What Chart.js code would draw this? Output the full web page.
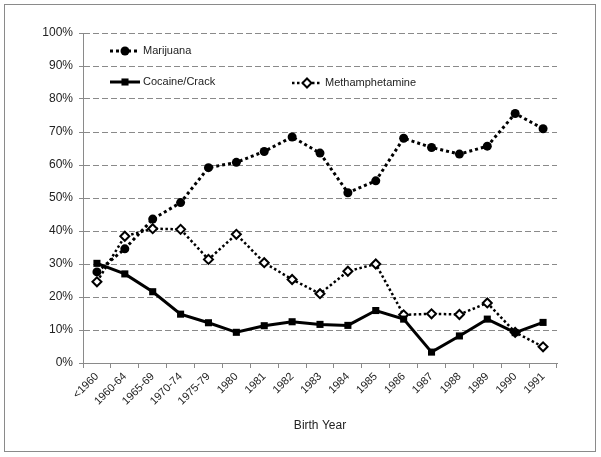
<!DOCTYPE html>
<html>
<head>
<meta charset="utf-8">
<script src="https://cdn.jsdelivr.net/npm/chart.js@4"></script>
<style>
	html, body { margin: 0; padding: 0; background: #fff; }
	#wrap { position: relative; width: 601px; height: 457px; }
	#frame {
		position: absolute; left: 4px; top: 4px; width: 590px; height: 446px;
		border: 1.5px solid #8a8a8a; pointer-events: none;
	}
</style>
</head>
<body>
<div id="wrap">
	<canvas id="drug-chart" width="601" height="457"></canvas>
	<div id="frame"></div>
</div>
<script>
// Chart data
const birthYears = ['<1960', '1960-64', '1965-69', '1970-74', '1975-79', '1980', '1981', '1982',
	'1983', '1984', '1985', '1986', '1987', '1988', '1989', '1990', '1991'];
const marijuana = [27.6, 34.6, 43.6, 48.6, 59.2, 60.8, 64.1, 68.5, 63.6, 51.6, 55.2, 68.1, 65.3, 63.3, 65.7, 75.6, 71.0];
const cocaine = [30.2, 27.0, 21.6, 14.8, 12.2, 9.3, 11.3, 12.5, 11.7, 11.4, 15.9, 13.3, 3.3, 8.2, 13.3, 9.2, 12.3];
const meth = [24.6, 38.4, 40.7, 40.5, 31.4, 39.0, 30.4, 25.3, 21.0, 27.8, 30.0, 14.6, 14.9, 14.7, 18.2, 9.3, 4.9];
const yTicks = [0, 10, 20, 30, 40, 50, 60, 70, 80, 90, 100];

const FONT = 'Liberation Sans, Arial, sans-serif';
const AXIS_GRAY = '#8a8a8a';

let chart = null;

/**
 * Draw one legend sample (line + marker + label) inside the plot area
 */
function drawLegendItem(ctx, x, y, ds, text) {
	ctx.save();
	ctx.strokeStyle = '#000';
	ctx.lineWidth = ds.borderWidth;
	ctx.setLineDash(ds.borderDash || []);
	ctx.beginPath();
	ctx.moveTo(x, y);
	ctx.lineTo(x + 30, y);
	ctx.stroke();
	ctx.setLineDash([]);

	const cx = x + 15;
	const r = ds.pointRadius;
	ctx.fillStyle = ds.pointBackgroundColor;
	ctx.strokeStyle = ds.pointBorderColor;
	ctx.lineWidth = ds.pointBorderWidth;
	ctx.beginPath();
	if (ds.pointStyle === 'circle') {
		ctx.arc(cx, y, r, 0, Math.PI * 2);
	} else if (ds.pointStyle === 'rect') {
		const s = r * Math.SQRT1_2;
		ctx.rect(cx - s, y - s, 2 * s, 2 * s);
	} else {
		ctx.moveTo(cx, y - r);
		ctx.lineTo(cx + r, y);
		ctx.lineTo(cx, y + r);
		ctx.lineTo(cx - r, y);
		ctx.closePath();
	}
	ctx.fill();
	if (ds.pointBorderWidth) ctx.stroke();

	ctx.fillStyle = '#222';
	ctx.font = '11px ' + FONT;
	ctx.textBaseline = 'middle';
	ctx.textAlign = 'left';
	ctx.fillText(text, x + 33, y);
	ctx.restore();
}

const legendPlugin = {
	id: 'insideLegend',
	afterDatasetsDraw(c) {
		const area = c.chartArea;
		const ctx = c.ctx;
		const sets = c.data.datasets;
		drawLegendItem(ctx, area.left + 27, area.top + 18, sets[0], sets[0].label);
		drawLegendItem(ctx, area.left + 27, area.top + 49, sets[1], sets[1].label);
		drawLegendItem(ctx, area.left + 209, area.top + 50, sets[2], sets[2].label);
	}
};

/**
 * Initialize Chart.js
 */
function initChart() {
	const ctx = document.getElementById('drug-chart').getContext('2d');

	const chartConfig = {
		type: 'line',
		data: {
			labels: birthYears,
			datasets: [{
				label: 'Marijuana',
				data: marijuana,
				borderColor: '#000',
				borderWidth: 3,
				borderDash: [3, 3],
				pointStyle: 'circle',
				pointRadius: 4.5,
				pointBackgroundColor: '#000',
				pointBorderColor: '#000',
				pointBorderWidth: 0,
				tension: 0
			}, {
				label: 'Cocaine/Crack',
				data: cocaine,
				borderColor: '#000',
				borderWidth: 3,
				pointStyle: 'rect',
				pointRadius: 5,
				pointBackgroundColor: '#000',
				pointBorderColor: '#000',
				pointBorderWidth: 0,
				tension: 0
			}, {
				label: 'Methamphetamine',
				data: meth,
				borderColor: '#000',
				borderWidth: 2.5,
				borderDash: [2.5, 2.5],
				pointStyle: 'rectRot',
				pointRadius: 4.5,
				pointBackgroundColor: '#fff',
				pointBorderColor: '#000',
				pointBorderWidth: 2,
				tension: 0
			}]
		},
		options: {
			responsive: false,
			animation: false,
			layout: {
				padding: { left: 10, right: 44, top: 33, bottom: 20 }
			},
			scales: {
				x: {
					offset: true,
					afterFit: (s) => { s.height = 74; },
					grid: {
						offset: true,
						drawOnChartArea: false,
						drawTicks: true,
						tickLength: 5,
						color: AXIS_GRAY
					},
					border: { color: AXIS_GRAY, width: 1 },
					ticks: {
						minRotation: 45,
						maxRotation: 45,
						autoSkip: false,
						padding: 2,
						color: '#222',
						font: { family: FONT, size: 11 }
					},
					title: {
						display: true,
						text: 'Birth Year',
						color: '#222',
						font: { family: FONT, size: 12 }
					}
				},
				y: {
					min: 0,
					max: 100,
					afterFit: (s) => { s.width = 73; },
					afterBuildTicks: (s) => { s.ticks = yTicks.map(v => ({ value: v })); },
					grid: {
						color: AXIS_GRAY,
						lineWidth: 1,
						drawTicks: true,
						tickLength: 4
					},
					border: { color: AXIS_GRAY, width: 1, dash: [6, 3] },
					ticks: {
						padding: 6,
						color: '#222',
						font: { family: FONT, size: 12 },
						callback: (v) => v + '%'
					}
				}
			},
			plugins: {
				legend: { display: false },
				tooltip: { enabled: false }
			}
		},
		plugins: [legendPlugin]
	};

	chart = new Chart(ctx, chartConfig);
}

document.addEventListener('DOMContentLoaded', initChart);
</script>
</body>
</html>
